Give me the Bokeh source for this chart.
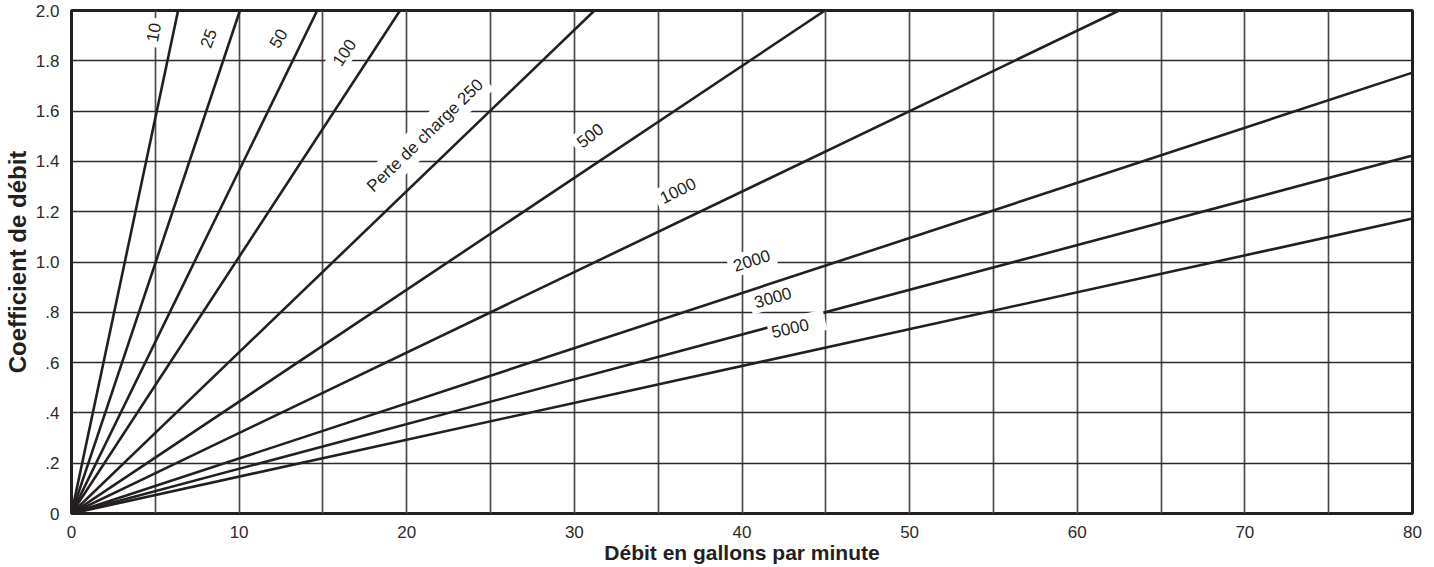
from bokeh.plotting import figure
from bokeh.models import Range1d, SingleIntervalTicker, FixedTicker, CustomJSTickFormatter, ColumnDataSource, Title
from bokeh.core.properties import value
from bokeh.embed import file_html
from bokeh.resources import INLINE

# ---- data ----
pressure_drops = [10, 25, 50, 100, 250, 500, 1000, 2000, 3000, 5000]
curve_labels = ["10", "25", "50", "100", "Perte de charge 250", "500", "1000", "2000", "3000", "5000"]
end_flow = [6.36, 10.05, 14.66, 19.6, 31.2, 44.95, 62.5, 80.0, 80.0, 80.0]
end_coef = [2.0, 2.0, 2.0, 2.0, 2.0, 2.0, 2.0, 1.753, 1.423, 1.173]

x_ticks = [0, 10, 20, 30, 40, 50, 60, 70, 80]
y_ticks = [0, 0.2, 0.4, 0.6, 0.8, 1.0, 1.2, 1.4, 1.6, 1.8, 2.0]
y_tick_labels = ["0", ".2", ".4", ".6", ".8", "1.0", "1.2", "1.4", "1.6", "1.8", "2.0"]

# ---- label placement (layout) ----
label_pos_x = [4.89, 8.16, 12.34, 16.27, 21.1, 30.93, 36.17, 40.58, 41.84, 43.27]
label_pos_y = [1.913, 1.889, 1.889, 1.833, 1.503, 1.503, 1.284, 1.006, 0.859, 0.745]
label_angle = [80, 70, 60, 56, 44, 38, 26, 18, 16, 13]

INK = "#231f20"
FONT = "Liberation Sans"

p = figure(width=1434, height=567, output_backend="svg", toolbar_location=None,
           x_range=Range1d(0, 80), y_range=Range1d(0, 2.0),
           min_border_left=71, min_border_right=22, min_border_top=10, min_border_bottom=54)

p.outline_line_color = INK
p.outline_line_width = 3
p.background_fill_color = "white"

# axes
p.xaxis.ticker = FixedTicker(ticks=x_ticks)
p.yaxis.ticker = FixedTicker(ticks=y_ticks)
p.yaxis.formatter = CustomJSTickFormatter(args=dict(tv=y_ticks, tl=y_tick_labels), code="""
    for (let i = 0; i < tv.length; i++) {
        if (Math.abs(tv[i] - tick) < 1e-9) { return tl[i]; }
    }
    return "";
""")
for ax in (p.xaxis, p.yaxis):
    ax.axis_line_color = None
    ax.major_tick_line_color = None
    ax.minor_tick_line_color = None
    ax.major_tick_in = 0
    ax.major_tick_out = 0
    ax.minor_tick_in = 0
    ax.minor_tick_out = 0
    ax.major_label_text_font = FONT
    ax.major_label_text_font_size = "17px"
    ax.major_label_text_color = "#2b2b2b"
    ax.axis_label_text_font = FONT
    ax.axis_label_text_font_style = "bold"
    ax.axis_label_text_color = INK

p.xaxis.axis_label = "Débit en gallons par minute"
p.xaxis.axis_label_text_font_size = "21px"
p.xaxis.major_label_standoff = 12
p.xaxis.axis_label_standoff = 0
p.yaxis.major_label_standoff = 12

# y axis title (slightly above the frame centre, as in the reference)
ytitle = Title(text="Coefficient de débit", align="center", offset=40,
               text_font=FONT, text_font_size="24px", text_font_style="bold",
               text_color=INK, standoff=3)
p.add_layout(ytitle, "left")

# grid
p.xgrid.ticker = SingleIntervalTicker(interval=5)
p.ygrid.ticker = FixedTicker(ticks=y_ticks)
p.xgrid.grid_line_color = "#4a4a4a"
p.xgrid.grid_line_width = 1.7
p.ygrid.grid_line_color = "#2a2a2a"
p.ygrid.grid_line_width = 1.5

# curves
xs = [[0, xe] for xe in end_flow]
ys = [[0, ye] for ye in end_coef]
p.multi_line(xs=xs, ys=ys, line_color=INK, line_width=2.6)

# labels with white boxes
n_main = 9
src = ColumnDataSource(dict(x=label_pos_x[:n_main], y=label_pos_y[:n_main],
                            text=curve_labels[:n_main], angle=label_angle[:n_main]))
p.text(x="x", y="y", text="text", angle="angle", angle_units="deg", source=src,
       text_font=value(FONT), text_font_size=value("17px"), text_color=INK,
       text_align="center", text_baseline="middle",
       background_fill_color="white", padding=5)

src2 = ColumnDataSource(dict(x=label_pos_x[n_main:], y=label_pos_y[n_main:],
                             text=curve_labels[n_main:], angle=label_angle[n_main:]))
p.text(x="x", y="y", text="text", angle="angle", angle_units="deg", source=src2,
       text_font=value(FONT), text_font_size=value("17px"), text_color=INK,
       text_align="center", text_baseline="middle",
       background_fill_color="white", padding=(3, 17, 5, 4))

open("out.html", "w").write(file_html(p, INLINE))
